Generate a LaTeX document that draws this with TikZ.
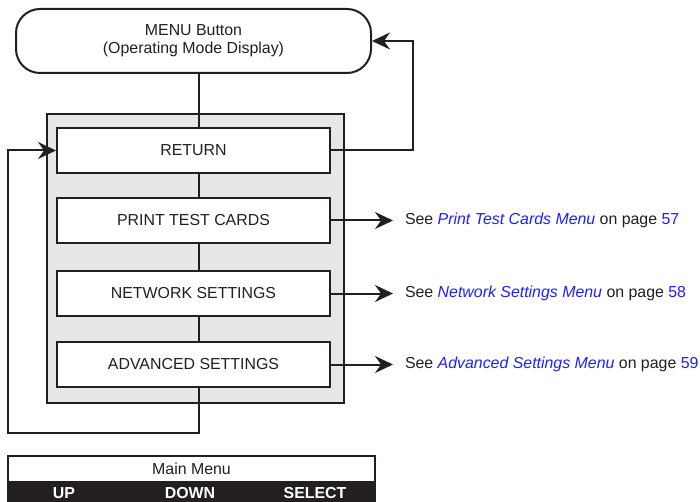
\documentclass[tikz,border=0pt]{standalone}
\usepackage{fontspec}
\setmainfont{Liberation Sans}
\usetikzlibrary{arrows.meta, positioning}
\definecolor{gris}{HTML}{E6E7E8}
\definecolor{azul}{HTML}{1F1FFF}
\definecolor{tinta}{HTML}{231F20}
\newcommand{\lnk}[1]{\textcolor{azul}{\textit{#1}}}

\begin{document}
\begin{tikzpicture}[x=1pt, y=-1pt,
      font=\fontsize{15.9}{18}\selectfont,
      color=tinta, line width=2pt,
      menubox/.style={draw, rounded corners=24pt, fill=white,
                      minimum width=355pt, minimum height=64pt, align=center},
      item/.style={draw, fill=white,
                   minimum width=273pt, minimum height=45pt},
      panel/.style={draw, fill=gris,
                    minimum width=297pt, minimum height=289pt},
      see/.style={anchor=west, inner sep=0pt},
      bar/.style={draw, minimum width=367pt},
      btn/.style={text=white, font=\fontsize{15.9}{18}\selectfont\bfseries},
      arrow/.style={-{Stealth[length=18pt, width=17pt, inset=6pt]}} ]

    \useasboundingbox (0,0) rectangle (700,502);

    \node[panel] (pnl) at (195.5,258.5) {};

    \node[menubox] (menu) at (193.5,41)
      {MENU Button\\ (Operating Mode Display)};

    \node[item, below=53pt of menu] (ret) {RETURN};
    \node[item, below=23pt of ret] (ptc) {PRINT TEST CARDS};
    \node[item, below=26pt of ptc] (net) {NETWORK SETTINGS};
    \node[item, below=24pt of net] (adv) {ADVANCED SETTINGS};

    \node[see, right=73pt of ptc] (sptc)
      {See \lnk{Print Test Cards Menu} on page \textcolor{azul}{57}};
    \node[see, right=73pt of net] (snet)
      {See \lnk{Network Settings Menu} on page \textcolor{azul}{58}};
    \node[see, right=73pt of adv] (sadv)
      {See \lnk{Advanced Settings Menu} on page \textcolor{azul}{59}};

    \node[bar, fill=white, minimum height=26pt] (mm) at (191.5,469) {Main Menu};
    \node[bar, fill=tinta, minimum height=20pt, below=0pt of mm] (keys) {};
    \node[btn] (up) at (64,493) {UP};
    \node[btn] (down) at (190,493) {DOWN};
    \node[btn] (sel) at (315,493) {SELECT};

    \coordinate (spine) at (199,0);
    \coordinate (loop) at (8,433);
    \coordinate (back) at (413,0);

    \draw (menu.south -| spine) -- (ret.north -| spine);
    \draw (ret.south -| spine) -- (ptc.north -| spine);
    \draw (ptc.south -| spine) -- (net.north -| spine);
    \draw (net.south -| spine) -- (adv.north -| spine);
    \draw[arrow] (adv.south -| spine) |- (loop) |- (ret.west);
    \draw[arrow] (ret.east) -| (back |- menu.east) -- (menu.east);

    \draw[arrow, shorten >=11pt] (ptc) -- (sptc);
    \draw[arrow, shorten >=11pt] (net) -- (snet);
    \draw[arrow, shorten >=11pt] (adv) -- (sadv);
  \end{tikzpicture}
\end{document}
